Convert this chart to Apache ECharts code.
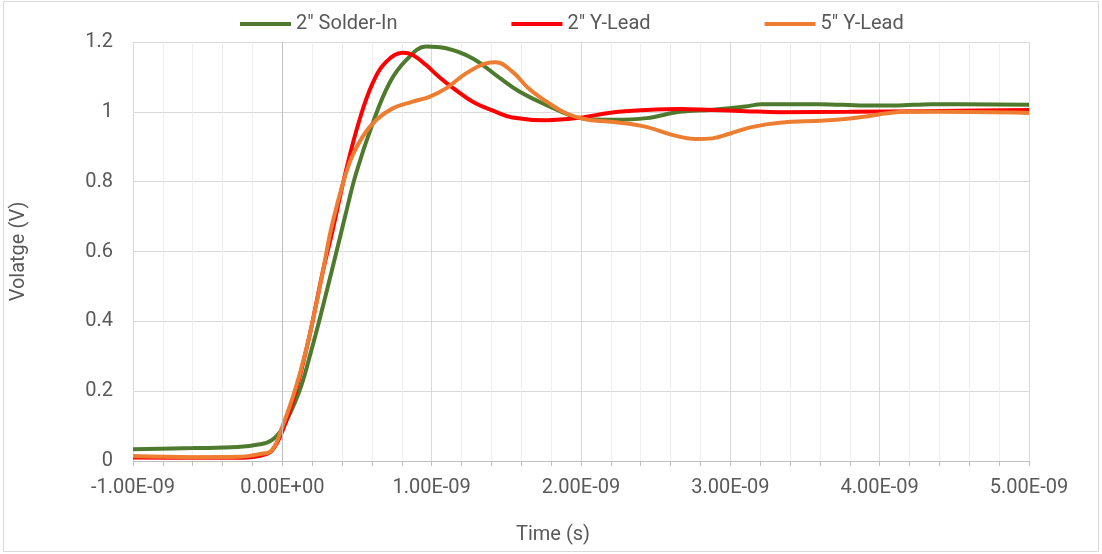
<!DOCTYPE html>
<html>
<head>
<meta charset="utf-8">
<script src="https://cdn.jsdelivr.net/npm/echarts@6/dist/echarts.min.js"></script>
<style>
  html, body { margin: 0; padding: 0; background: #fff; }
  #chart { width: 1102px; height: 554px; }
</style>
</head>
<body>
<div id="chart"></div>
<script>
// time in ns (axis labels shown in seconds), voltage in V
const solderT = [-1.0, -0.6, -0.3, -0.15, -0.07, 0.0, 0.11, 0.19, 0.27, 0.36, 0.42, 0.494, 0.605, 0.717, 0.829, 0.963, 1.096, 1.275, 1.453, 1.587, 1.72, 1.855, 1.99, 2.21, 2.44, 2.66, 2.88, 3.1, 3.21, 3.6, 3.9, 4.1, 4.35, 5.0];
const solderV = [0.034, 0.037, 0.040, 0.048, 0.060, 0.094, 0.195, 0.31, 0.44, 0.595, 0.70, 0.824, 0.967, 1.082, 1.148, 1.187, 1.182, 1.153, 1.098, 1.058, 1.029, 1.003, 0.982, 0.977, 0.982, 1.0, 1.006, 1.015, 1.022, 1.022, 1.018, 1.018, 1.022, 1.02];

const yLead2T = [-1.0, -0.6, -0.3, -0.15, -0.07, 0.0, 0.09, 0.18, 0.27, 0.337, 0.427, 0.516, 0.605, 0.695, 0.806, 0.873, 0.963, 1.05, 1.16, 1.275, 1.43, 1.54, 1.766, 1.99, 2.21, 2.436, 2.66, 2.88, 3.1, 3.33, 3.8, 4.3, 5.0];
const yLead2V = [0.010, 0.009, 0.009, 0.015, 0.030, 0.085, 0.20, 0.355, 0.54, 0.661, 0.833, 0.976, 1.082, 1.143, 1.169, 1.163, 1.134, 1.10, 1.063, 1.029, 1.0, 0.984, 0.976, 0.983, 0.998, 1.005, 1.008, 1.005, 1.002, 0.999, 1.0, 1.002, 1.005];

const yLead5T = [-1.0, -0.6, -0.3, -0.15, -0.07, 0.0, 0.09, 0.18, 0.27, 0.335, 0.449, 0.538, 0.627, 0.739, 0.873, 0.985, 1.096, 1.23, 1.364, 1.43, 1.54, 1.65, 1.77, 1.9, 2.03, 2.26, 2.436, 2.61, 2.77, 2.88, 3.0, 3.15, 3.33, 3.63, 3.8, 3.93, 4.05, 4.2, 4.4, 5.0];
const yLead5V = [0.014, 0.011, 0.012, 0.020, 0.031, 0.098, 0.21, 0.356, 0.54, 0.68, 0.853, 0.929, 0.976, 1.01, 1.029, 1.043, 1.067, 1.110, 1.139, 1.142, 1.115, 1.067, 1.029, 0.996, 0.979, 0.969, 0.957, 0.934, 0.922, 0.924, 0.938, 0.957, 0.969, 0.975, 0.981, 0.988, 0.996, 1.0, 1.0, 0.997];

const seriesNames = ['2" Solder-In', '2" Y-Lead', '5" Y-Lead'];
const seriesColors = ['#4e7a2e', '#ff0000', '#ed7d31'];

function pairs(t, v) {
    return t.map((x, i) => [x, v[i]]);
}

// ns -> "1.00E-09" style
function sciLabel(ns) {
    let s = (ns * 1e-9).toExponential(2);
    if (Math.abs(ns) < 1e-12) s = '0.00e+0';
    let parts = s.split('e');
    let exp = parseInt(parts[1], 10);
    let sign = exp < 0 ? '-' : '+';
    let e = String(Math.abs(exp)).padStart(2, '0');
    return parts[0] + 'E' + sign + e;
}

const textColor = '#595959';
const font = 'Roboto';

let chart = echarts.init(document.getElementById('chart'));
chart.setOption({
    animation: false,
    textStyle: {fontFamily: font},
    graphic: [{
        type: 'rect',
        shape: {x: 3.5, y: 1.5, width: 1095, height: 550},
        style: {fill: 'none', stroke: '#d9d9d9', lineWidth: 1},
        silent: true
    }],
    legend: {
        top: 9,
        left: 235,
        icon: 'rect',
        itemWidth: 51,
        itemHeight: 4,
        itemGap: 114,
        textStyle: {color: textColor, fontSize: 20, fontFamily: font},
        data: seriesNames
    },
    grid: {left: 133, right: 73, top: 42, bottom: 93},
    xAxis: {
        type: 'value',
        min: -1,
        max: 5,
        interval: 1,
        name: 'Time (s)',
        nameLocation: 'middle',
        nameGap: 64,
        nameTextStyle: {color: textColor, fontSize: 20, fontFamily: font, padding: [0, 56, 0, 0]},
        axisLine: {show: true, onZero: false, lineStyle: {color: '#bfbfbf', width: 1}},
        axisTick: {show: true, length: 5, lineStyle: {color: '#bfbfbf'}},
        minorTick: {show: true, splitNumber: 5, length: 5, lineStyle: {color: '#bfbfbf'}},
        axisLabel: {color: textColor, fontSize: 20, margin: 17, formatter: sciLabel},
        splitLine: {show: true, lineStyle: {color: '#d9d9d9', width: 1}},
        minorSplitLine: {show: true, lineStyle: {color: '#efefef', width: 1}}
    },
    yAxis: {
        type: 'value',
        min: 0,
        max: 1.2,
        interval: 0.2,
        name: 'Volatge (V)',
        nameLocation: 'middle',
        nameGap: 104,
        nameTextStyle: {color: textColor, fontSize: 20, fontFamily: font},
        axisLine: {show: false},
        axisTick: {show: false},
        axisLabel: {color: textColor, fontSize: 20, margin: 20},
        splitLine: {show: true, lineStyle: {color: '#d9d9d9', width: 1}}
    },
    series: [
        {
            name: seriesNames[0],
            type: 'line',
            data: pairs(solderT, solderV),
            smooth: 0.4,
            showSymbol: false,
            color: seriesColors[0],
            lineStyle: {width: 4},
            markLine: {
                silent: true,
                symbol: 'none',
                label: {show: false},
                lineStyle: {color: '#bfbfbf', width: 1, type: 'solid'},
                data: [{xAxis: 0}]
            }
        },
        {
            name: seriesNames[1],
            type: 'line',
            data: pairs(yLead2T, yLead2V),
            smooth: 0.4,
            showSymbol: false,
            color: seriesColors[1],
            lineStyle: {width: 4}
        },
        {
            name: seriesNames[2],
            type: 'line',
            data: pairs(yLead5T, yLead5V),
            smooth: 0.4,
            showSymbol: false,
            color: seriesColors[2],
            lineStyle: {width: 4}
        }
    ]
});
</script>
</body>
</html>
